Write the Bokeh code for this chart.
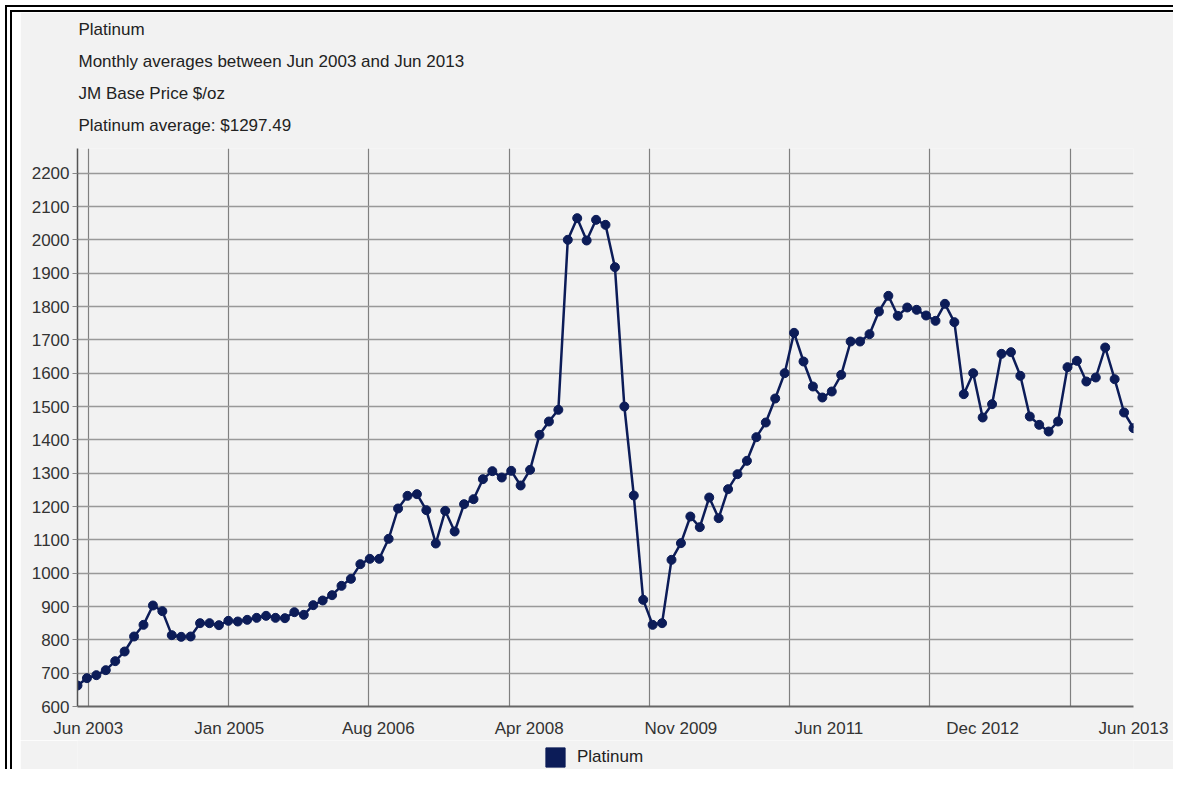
from bokeh.plotting import figure
from bokeh.layouts import column
from bokeh.models import Range1d, FixedTicker, Title, Legend, LegendItem
from bokeh.embed import file_html
from bokeh.resources import INLINE

# ---- data ----
prices = [663, 685, 694, 709, 736, 765, 810, 845, 903, 886,
          814, 809, 810, 850, 850, 844, 857, 855, 860, 866,
          872, 866, 865, 883, 875, 904, 918, 934, 962, 983,
          1027, 1043, 1043, 1103, 1194, 1232, 1237, 1189, 1089, 1187,
          1125, 1207, 1222, 1282, 1306, 1287, 1307, 1263, 1310, 1415,
          1455, 1490, 2000, 2065, 1998, 2060, 2045, 1918, 1500, 1233,
          920, 845, 850, 1040, 1090, 1170, 1138, 1227, 1165, 1252,
          1297, 1337, 1408, 1452, 1524, 1600, 1721, 1635, 1560, 1527,
          1545, 1595, 1695, 1695, 1717, 1785, 1832, 1772, 1797, 1790,
          1773, 1757, 1808, 1753, 1537, 1600, 1467, 1507, 1658, 1663,
          1592, 1470, 1445, 1425, 1455, 1618, 1637, 1575, 1587, 1677,
          1582, 1482, 1435]
x_idx = list(range(len(prices)))

y_ticks = list(range(600, 2201, 100))
x_labels = ["Jun 2003", "Jan 2005", "Aug 2006", "Apr 2008",
            "Nov 2009", "Jun 2011", "Dec 2012", "Jun 2013"]
x_label_pos = [1.13, 16.09, 31.9, 47.9, 64.0, 79.7, 96.0, 112.0]
x_grid_pos = [1.13, 16.01, 30.89, 45.77, 60.65, 75.53, 90.41, 105.29]
title_lines = ["Platinum",
               "Monthly averages between Jun 2003 and Jun 2013",
               "JM Base Price $/oz",
               "Platinum average: $1297.49"]
series_name = "Platinum"

NAVY = "#0c1c58"
BG = "#f2f2f2"
FONT = "Liberation Sans"

p = figure(width=1153, height=728, output_backend="svg", toolbar_location=None,
           x_range=Range1d(0, len(prices) - 1), y_range=Range1d(600, 2274),
           background_fill_color=BG, border_fill_color=BG,
           min_border_left=57, min_border_right=40, min_border_top=136,
           min_border_bottom=30)
p.outline_line_color = None

# spacer closest to the plot area, then the four header lines
p.add_layout(Title(text=" ", text_font_size="4px", standoff=1,
                   text_color=BG), "above")
for t in reversed(title_lines):
    p.add_layout(Title(text=t, align="left", text_font_size="17px",
                       text_font_style="normal", text_color="#222222",
                       text_font=FONT, offset=1, standoff=11), "above")

p.line(x_idx, prices, line_color=NAVY, line_width=2.5)
p.scatter(x_idx, prices, size=9, fill_color=NAVY, line_color=NAVY)

# axes
p.yaxis.ticker = FixedTicker(ticks=y_ticks)
p.yaxis.major_label_text_font = FONT
p.yaxis.major_label_text_font_size = "17px"
p.yaxis.major_label_text_color = "#333333"
p.yaxis.major_tick_out = 5
p.yaxis.major_tick_in = 0
p.yaxis.major_tick_line_color = "#888888"
p.yaxis.minor_tick_line_color = None
p.yaxis.major_label_standoff = 3
p.yaxis.axis_line_color = "#555555"
p.yaxis.axis_line_width = 1.5

p.xaxis.ticker = FixedTicker(ticks=x_label_pos)
p.xaxis.major_label_overrides = {pos: lab for pos, lab in zip(x_label_pos, x_labels)}
p.xaxis.major_label_text_font = FONT
p.xaxis.major_label_text_font_size = "17px"
p.xaxis.major_label_text_color = "#333333"
p.xaxis.major_tick_line_color = None
p.xaxis.minor_tick_line_color = None
p.xaxis.major_label_standoff = 6
p.xaxis.axis_line_color = "#666666"
p.xaxis.axis_line_width = 2

p.ygrid.ticker = FixedTicker(ticks=y_ticks)
p.ygrid.grid_line_color = "#999999"
p.ygrid.grid_line_width = 1.6
p.xgrid.ticker = FixedTicker(ticks=x_grid_pos)
p.xgrid.grid_line_color = "#808080"
p.xgrid.grid_line_width = 1.2

# legend strip under the chart, with a square swatch
lg = figure(width=1153, height=29, output_backend="svg", toolbar_location=None,
            x_range=Range1d(0, 1), y_range=Range1d(0, 1),
            x_axis_location=None, y_axis_location=None,
            background_fill_color=BG, border_fill_color=BG,
            min_border=0, min_border_left=0, min_border_right=0,
            min_border_top=0, min_border_bottom=0)
lg.outline_line_color = None
lg.xgrid.visible = False
lg.ygrid.visible = False
# legend proxy: one row kept outside the visible range so only the legend shows it
swatch = lg.quad(left=[-3], right=[-2], top=[-2], bottom=[-3],
                 fill_color=NAVY, line_color=NAVY)
legend = Legend(items=[LegendItem(label=series_name, renderers=[swatch])],
                location=(466, 0), orientation="horizontal",
                glyph_width=24, glyph_height=24, label_standoff=10,
                label_text_font=FONT, label_text_font_size="17px",
                label_text_color="#222222", padding=0, margin=0,
                background_fill_alpha=0, border_line_alpha=0)
lg.add_layout(legend, "center")

# page frame: white margin with a double black rule on the left and top
page = column(p, lg, spacing=0,
              styles={"border-left": "7px double black",
                      "border-top": "7px double black",
                      "margin-left": "5px", "margin-top": "5px",
                      "padding-left": "8px", "background": "white"})

open("out.html", "w").write(file_html(page, INLINE))
